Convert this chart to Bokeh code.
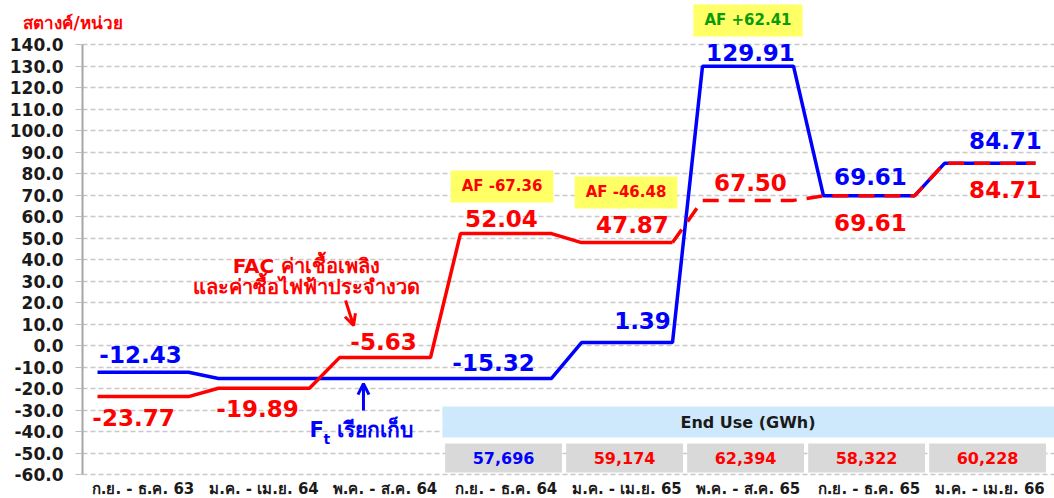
from bokeh.plotting import figure
from bokeh.models import (Range1d, FixedTicker, PrintfTickFormatter,
                          ColumnDataSource, Label, Arrow, OpenHead)
from bokeh.core.properties import value
from bokeh.embed import file_html
from bokeh.resources import INLINE

# ---------------- data ----------------
periods = ["ก.ย. - ธ.ค. 63", "ม.ค. - เม.ย. 64", "พ.ค. - ส.ค. 64", "ก.ย. - ธ.ค. 64",
           "ม.ค. - เม.ย. 65", "พ.ค. - ส.ค. 65", "ก.ย. - ธ.ค. 65", "ม.ค. - เม.ย. 66"]
ft_billed = [-12.43, -15.32, -15.32, -15.32, 1.39, 129.91, 69.61, 84.71]
fac_fuel = [-23.77, -19.89, -5.63, 52.04, 47.87, 67.50, 69.61, 84.71]
ft_label_idx = [0, 3, 4, 5, 6, 7]
af_idx = [3, 4, 5]
af_values = [-67.36, -46.48, 62.41]
end_use_idx = [3, 4, 5, 6, 7]
end_use_gwh = [57696, 59174, 62394, 58322, 60228]
y_ticks = list(range(-60, 150, 10))
unit_text = "สตางค์/หน่วย"
fac_note = ["FAC ค่าเชื้อเพลิง", "และค่าซื้อไฟฟ้าประจำงวด"]
ft_note = "เรียกเก็บ"
table_title = "End Use (GWh)"

# ---------------- styles / layout ----------------
BLUE = "#0000ff"
RED = "#ff0000"
GREEN = "#0a9a0a"
YELLOW = "#ffff66"
FONT = "DejaVu Sans"
H = 0.376  # half width of the flat part of each period
PX_X = 121.0   # pixels per category
PX_Y = 2.15    # pixels per y unit

ft_dx = [-2.5, -12.5, 15.5, 2.5, 1.5, 15.5]
ft_dy = [18, 16, 22, 14, 19, 23]
fac_dx = [-9.5, -6.5, -1.5, -4.5, 5.5, 2.5, 1.5, 15.5]
fac_dy = [-21, -20, 16, 15, 18, 18, -27, -26]
af_y = [74.0, 71.2, 151.2]
af_dx = [-4, -1, 0]


def step_path(idx, vals):
    xs, ys = [], []
    for i, v in zip(idx, vals):
        xs += [i - H, i + H]
        ys += [v, v]
    return xs, ys


# frame covers the whole canvas; axes are drawn at fixed locations inside it
x_end = 7.5 + 4 / PX_X
p = figure(width=1054, height=498, output_backend="svg", toolbar_location=None,
           x_range=Range1d(-0.5 - 82 / PX_X, x_end),
           y_range=Range1d(-60 - 24 / PX_Y, 140 + 44 / PX_Y),
           min_border_left=0, min_border_right=0, min_border_top=0, min_border_bottom=0)
p.outline_line_color = None
p.background_fill_color = "white"
p.border_fill_color = "white"

ticker = FixedTicker(ticks=y_ticks)

# grid
p.xgrid.grid_line_color = None
p.ygrid.ticker = ticker
p.ygrid.grid_line_color = "#c8c8c8"
p.ygrid.grid_line_dash = "5 3"
p.ygrid.grid_line_width = 1.5
p.ygrid.cross_bounds = (-0.5, x_end)

# y axis
yax = p.yaxis[0]
yax.fixed_location = -0.5
yax.bounds = (-60, 140)
yax.ticker = ticker
yax.formatter = PrintfTickFormatter(format="%.1f")
yax.axis_line_color = "#a6a6a6"
yax.axis_line_width = 2
yax.major_tick_out = 7
yax.major_tick_in = 0
yax.major_tick_line_color = "#bfbfbf"
yax.minor_tick_line_color = None
yax.major_label_text_font = FONT
yax.major_label_text_font_style = "bold"
yax.major_label_text_font_size = "17px"
yax.major_label_text_color = "#1a1a1a"
yax.major_label_standoff = 12

# x axis
xax = p.xaxis[0]
xax.fixed_location = -60
xax.ticker = FixedTicker(ticks=list(range(len(periods))))
xax.major_label_overrides = {i: lab for i, lab in enumerate(periods)}
xax.axis_line_color = None
xax.major_tick_line_color = None
xax.major_tick_out = 0
xax.major_tick_in = 0
xax.minor_tick_line_color = None
xax.minor_tick_out = 0
xax.major_label_text_font = FONT
xax.major_label_text_font_style = "bold"
xax.major_label_text_font_size = "15px"
xax.major_label_text_color = "#1a1a1a"
xax.major_label_standoff = 5

# End Use table
p.quad(left=[end_use_idx[0] - 0.525], right=[x_end], bottom=[-42.8], top=[-28.4],
       fill_color="#cde9fb", line_color=None)
p.quad(left=[i - 0.02 - 0.483 for i in end_use_idx], right=[i - 0.02 + 0.483 for i in end_use_idx],
       bottom=[-59.1] * len(end_use_idx), top=[-45.6] * len(end_use_idx),
       fill_color="#d9d9d9", line_color=None)
p.text(x=[5.0], y=[-35.7], text=[table_title], text_align="center", text_baseline="middle",
       text_font=value(FONT), text_font_style="bold", text_font_size="16px", text_color="#1a1a1a")
eu_src = ColumnDataSource(dict(
    x=[i - 0.02 for i in end_use_idx], y=[-52.1] * len(end_use_idx),
    t=[f"{v:,}" for v in end_use_gwh],
    c=[BLUE] + [RED] * (len(end_use_idx) - 1)))
p.text(x="x", y="y", text="t", text_color="c", source=eu_src, text_align="center",
       text_baseline="middle", text_font=value(FONT), text_font_style="bold",
       text_font_size="16px")

# lines
bx, by = step_path(range(len(ft_billed)), ft_billed)
p.line(bx, by, line_color=BLUE, line_width=3.5)
rx, ry = step_path(range(5), fac_fuel[:5])
p.line(rx, ry, line_color=RED, line_width=3.5)
dx_, dy_ = step_path(range(4, 8), fac_fuel[4:])
p.line(dx_[1:], dy_[1:], line_color=RED, line_width=3.5, line_dash="16 10")

# value labels
ft_src = ColumnDataSource(dict(
    x=ft_label_idx, y=[ft_billed[i] for i in ft_label_idx],
    t=[f"{ft_billed[i]:.2f}" for i in ft_label_idx],
    xo=ft_dx, yo=[-d for d in ft_dy]))
p.text(x="x", y="y", text="t", x_offset="xo", y_offset="yo", source=ft_src,
       text_color=BLUE, text_align="center", text_baseline="middle",
       text_font=value(FONT), text_font_style="bold", text_font_size="23px")
fac_src = ColumnDataSource(dict(
    x=list(range(len(fac_fuel))), y=fac_fuel,
    t=[f"{v:.2f}" for v in fac_fuel],
    xo=fac_dx, yo=[-d for d in fac_dy]))
p.text(x="x", y="y", text="t", x_offset="xo", y_offset="yo", source=fac_src,
       text_color=RED, text_align="center", text_baseline="middle",
       text_font=value(FONT), text_font_style="bold", text_font_size="23px")

# AF boxes
for i, v, y, dx in zip(af_idx, af_values, af_y, af_dx):
    p.add_layout(Label(x=i, y=y, x_offset=dx, text=f"AF {v:+.2f}", text_align="center",
                       text_baseline="middle", text_font=FONT, text_font_style="bold",
                       text_font_size="15px", text_color=GREEN if v > 0 else RED,
                       background_fill_color=YELLOW,
                       padding=dict(left=11, right=11, top=7, bottom=7)))

# unit label
p.text(x=[-0.988], y=[150.2], text=[unit_text], text_align="left", text_baseline="middle",
       text_font=value(FONT), text_font_style="bold", text_font_size="17px", text_color=RED)

# FAC note + arrow
p.text(x=[1.351, 1.351], y=[37.2, 27.0], text=fac_note, text_align="center",
       text_baseline="middle", text_font=value(FONT), text_font_style="bold",
       text_font_size="20px", text_color=RED)
p.add_layout(Arrow(end=OpenHead(size=11, line_color=RED, line_width=3),
                   x_start=1.674, y_start=20.9, x_end=1.740, y_end=9.3,
                   line_color=RED, line_width=3))

# Ft note + arrow
p.text(x=[1.376], y=[-39.5], text=["F"], text_align="left", text_baseline="middle",
       text_font=value(FONT), text_font_style="bold", text_font_size="21px", text_color=BLUE)
p.text(x=[1.492], y=[-43.5], text=["t"], text_align="left", text_baseline="middle",
       text_font=value(FONT), text_font_style="bold", text_font_size="14px", text_color=BLUE)
p.text(x=[1.60], y=[-39.5], text=[ft_note], text_align="left", text_baseline="middle",
       text_font=value(FONT), text_font_style="bold", text_font_size="21px", text_color=BLUE)
p.add_layout(Arrow(end=OpenHead(size=11, line_color=BLUE, line_width=3),
                   x_start=1.822, y_start=-30.2, x_end=1.822, y_end=-17.7,
                   line_color=BLUE, line_width=3))

open("out.html", "w").write(file_html(p, INLINE))
